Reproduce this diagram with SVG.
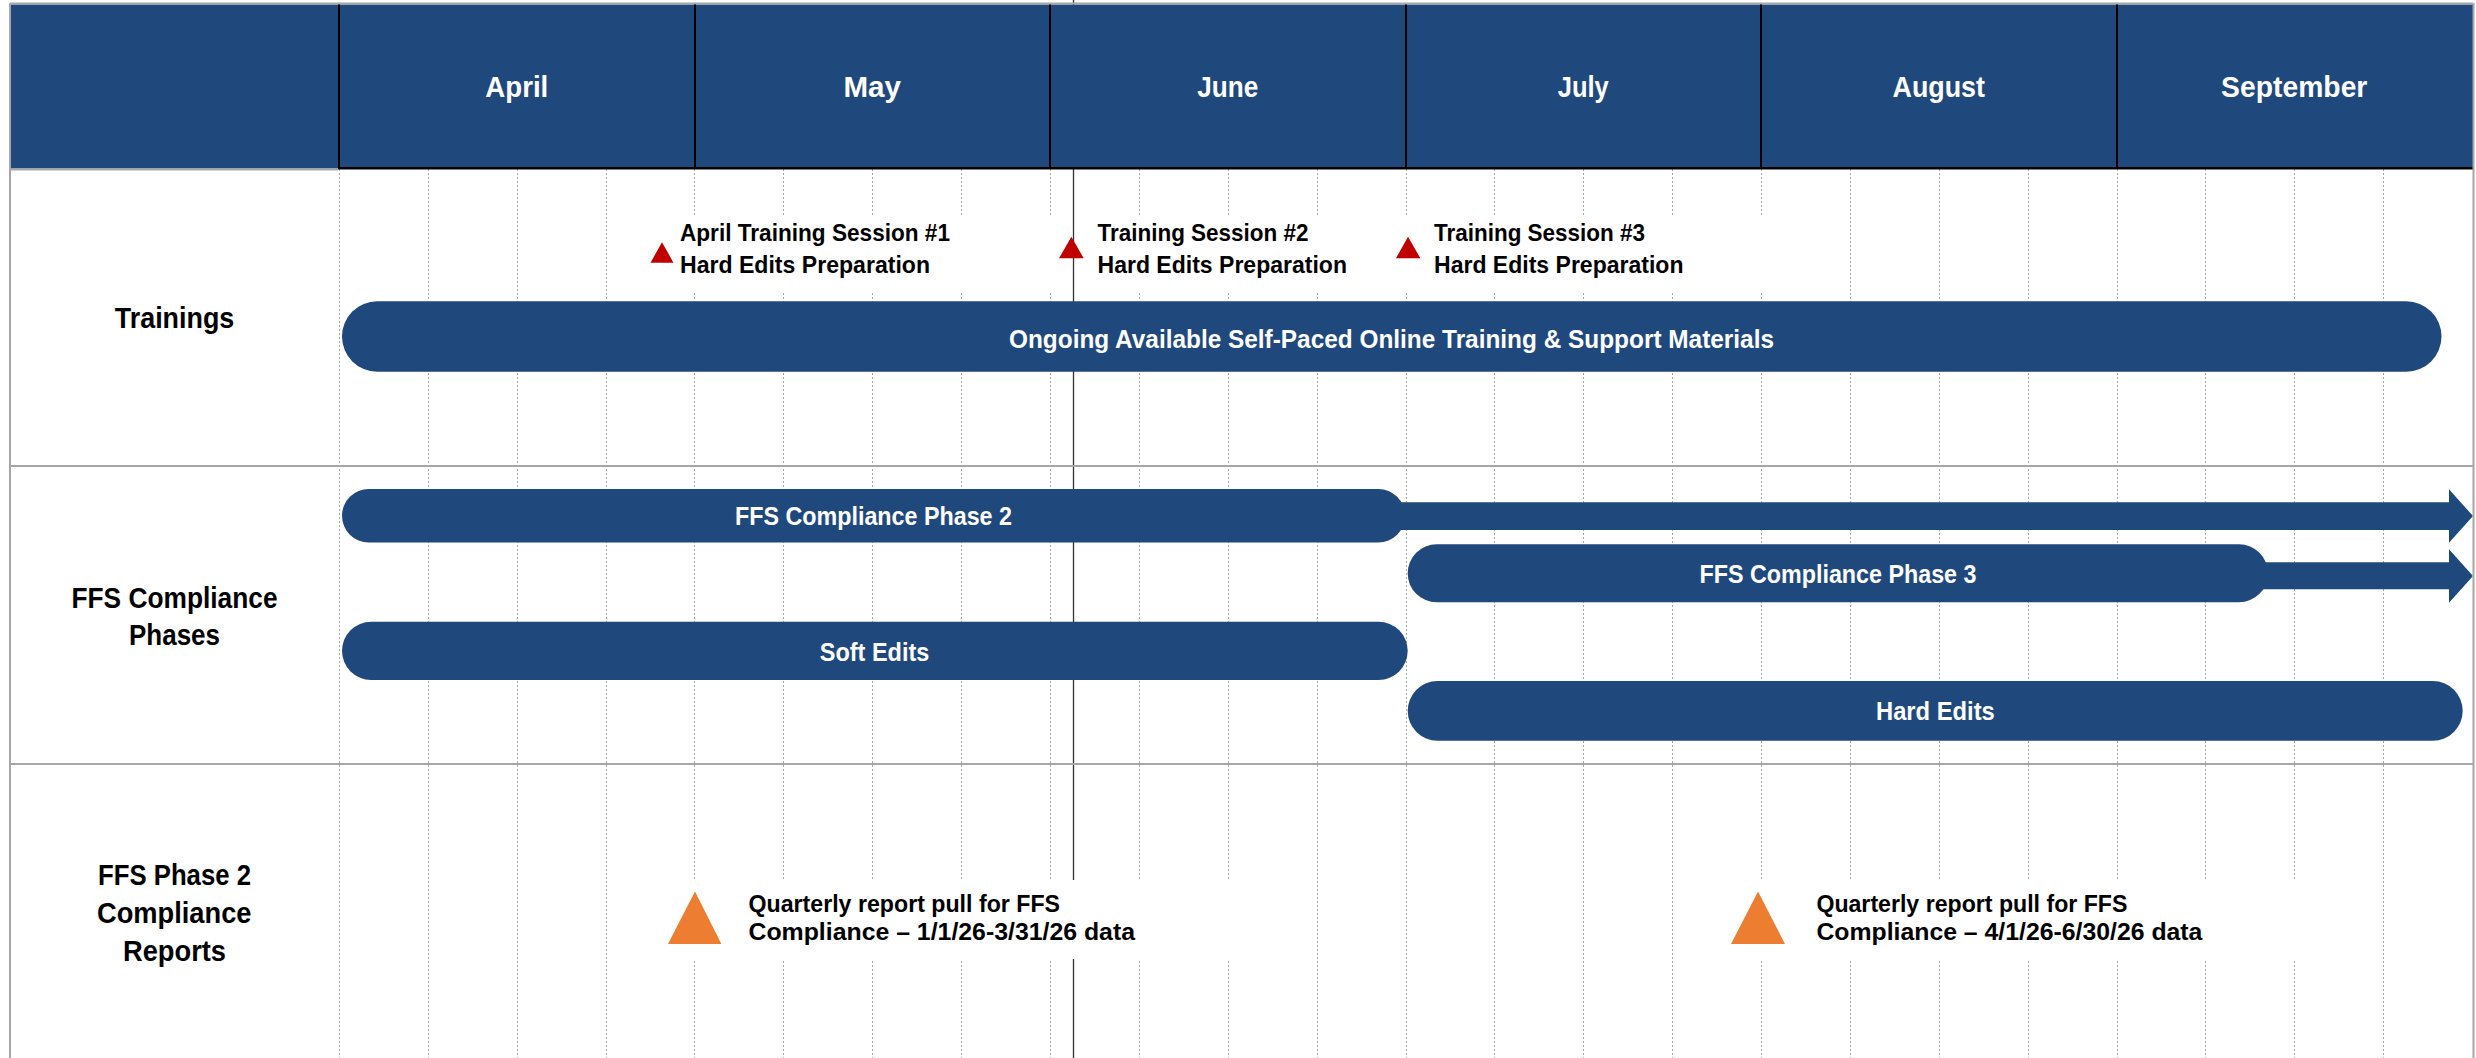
<svg xmlns="http://www.w3.org/2000/svg" width="2476" height="1058" viewBox="0 0 2476 1058">
<style>
  text { font-family: "Liberation Sans", Arial, sans-serif; font-weight: 700; }
  .mo { font-size: 28.8px; fill: #ffffff; }
  .rl { font-size: 28.8px; fill: #000000; }
  .bl { font-size: 25.2px; fill: #ffffff; }
  .ml { font-size: 24px; fill: #000000; }
  .bar { fill: #1F497D; }
  .hdr { fill: #1F497D; }
  .grid line { stroke: #a6a6a6; stroke-width: 1; stroke-dasharray: 2 2; }
  .mask { fill: #ffffff; }
  .hv { stroke: #000000; stroke-width: 2; }
  .border { stroke: #a6a6a6; stroke-width: 2; fill: none; }
  .red { fill: #C00000; }
  .orange { fill: #ED7D31; }
</style>

<rect x="0" y="0" width="2476" height="1058" fill="#ffffff"/>

<g id="connectors">
  <g class="grid">
    <line x1="339.5" y1="169" x2="339.5" y2="1058"/>
    <line x1="428.5" y1="169" x2="428.5" y2="1058"/>
    <line x1="517.5" y1="169" x2="517.5" y2="1058"/>
    <line x1="606.5" y1="169" x2="606.5" y2="1058"/>
    <line x1="694.5" y1="169" x2="694.5" y2="1058"/>
    <line x1="783.5" y1="169" x2="783.5" y2="1058"/>
    <line x1="872.5" y1="169" x2="872.5" y2="1058"/>
    <line x1="961.5" y1="169" x2="961.5" y2="1058"/>
    <line x1="1050.5" y1="169" x2="1050.5" y2="1058"/>
    <line x1="1139.5" y1="169" x2="1139.5" y2="1058"/>
    <line x1="1228.5" y1="169" x2="1228.5" y2="1058"/>
    <line x1="1317.5" y1="169" x2="1317.5" y2="1058"/>
    <line x1="1406.5" y1="169" x2="1406.5" y2="1058"/>
    <line x1="1494.5" y1="169" x2="1494.5" y2="1058"/>
    <line x1="1583.5" y1="169" x2="1583.5" y2="1058"/>
    <line x1="1672.5" y1="169" x2="1672.5" y2="1058"/>
    <line x1="1761.5" y1="169" x2="1761.5" y2="1058"/>
    <line x1="1850.5" y1="169" x2="1850.5" y2="1058"/>
    <line x1="1939.5" y1="169" x2="1939.5" y2="1058"/>
    <line x1="2028.5" y1="169" x2="2028.5" y2="1058"/>
    <line x1="2117.5" y1="169" x2="2117.5" y2="1058"/>
    <line x1="2205.5" y1="169" x2="2205.5" y2="1058"/>
    <line x1="2294.5" y1="169" x2="2294.5" y2="1058"/>
    <line x1="2383.5" y1="169" x2="2383.5" y2="1058"/>
  </g>
  <!-- white backgrounds of training labels -->
  <rect class="mask" x="640" y="215" width="1145" height="77"/>
  <!-- today line -->
  <line id="today" x1="1073.5" y1="0" x2="1073.5" y2="1058" stroke="#333333" stroke-width="1.3"/>
</g>

<g id="header">
  <rect class="hdr" x="11" y="4.5" width="2462" height="164"/>
  <line class="hv" x1="339" y1="4" x2="339" y2="169"/>
  <line class="hv" x1="695" y1="4" x2="695" y2="169"/>
  <line class="hv" x1="1050" y1="4" x2="1050" y2="169"/>
  <line class="hv" x1="1406" y1="4" x2="1406" y2="169"/>
  <line class="hv" x1="1761" y1="4" x2="1761" y2="169"/>
  <line class="hv" x1="2117" y1="4" x2="2117" y2="169"/>
  <line x1="338" y1="168.2" x2="2473" y2="168.2" stroke="#000000" stroke-width="2.6"/>
  <line x1="10" y1="169.5" x2="338" y2="169.5" stroke="#a6a6a6" stroke-width="2"/>
  <text class="mo" x="485.3" y="97" textLength="63" lengthAdjust="spacingAndGlyphs">April</text>
  <text class="mo" x="843.5" y="97" textLength="57.5" lengthAdjust="spacingAndGlyphs">May</text>
  <text class="mo" x="1197.3" y="97" textLength="61" lengthAdjust="spacingAndGlyphs">June</text>
  <text class="mo" x="1557.8" y="97" textLength="51" lengthAdjust="spacingAndGlyphs">July</text>
  <text class="mo" x="1892.5" y="97" textLength="92.5" lengthAdjust="spacingAndGlyphs">August</text>
  <text class="mo" x="2221.1" y="97" textLength="146.3" lengthAdjust="spacingAndGlyphs">September</text>
</g>

<g id="row-lines">
  <line class="border" x1="10" y1="3.5" x2="2473" y2="3.5"/>
  <line class="border" x1="10" y1="466" x2="2473" y2="466"/>
  <line class="border" x1="10" y1="764" x2="2473" y2="764"/>
  <line class="border" x1="10" y1="3" x2="10" y2="1058"/>
</g>

<g id="label-trainings">
  <text class="rl" x="114.8" y="328.3" textLength="119.5" lengthAdjust="spacingAndGlyphs">Trainings</text>
</g>
<g id="label-phases">
  <text class="rl" x="71.5" y="607.5" textLength="206" lengthAdjust="spacingAndGlyphs">FFS Compliance</text>
  <text class="rl" x="129" y="645" textLength="91" lengthAdjust="spacingAndGlyphs">Phases</text>
</g>
<g id="label-reports">
  <text class="rl" x="98" y="884.6" textLength="153" lengthAdjust="spacingAndGlyphs">FFS Phase 2</text>
  <text class="rl" x="97" y="922.8" textLength="154.5" lengthAdjust="spacingAndGlyphs">Compliance</text>
  <text class="rl" x="123" y="961" textLength="103" lengthAdjust="spacingAndGlyphs">Reports</text>
</g>

<g id="bar-ongoing">
  <rect class="bar" x="342" y="301.3" width="2099.5" height="70.4" rx="35.2" ry="35.2"/>
  <text class="bl" x="1009" y="347.5" textLength="765" lengthAdjust="spacingAndGlyphs">Ongoing Available Self-Paced Online Training &amp; Support Materials</text>
</g>

<g id="bar-phase2">
  <rect class="bar" x="342" y="489" width="1063" height="53.5" rx="26.75" ry="26.75"/>
  <polygon class="bar" points="1380,502.3 2449,502.3 2449,489.3 2473,516 2449,542.7 2449,530 1380,530"/>
  <text class="bl" x="735" y="525" textLength="277" lengthAdjust="spacingAndGlyphs">FFS Compliance Phase 2</text>
</g>

<g id="bar-phase3">
  <rect class="bar" x="1407.7" y="544.3" width="860.3" height="58" rx="29" ry="29"/>
  <polygon class="bar" points="2240,562.3 2449,562.3 2449,549.3 2473,576 2449,602.7 2449,589.3 2240,589.3"/>
  <text class="bl" x="1699.5" y="582.7" textLength="277" lengthAdjust="spacingAndGlyphs">FFS Compliance Phase 3</text>
</g>

<g id="bar-soft-edits">
  <rect class="bar" x="342" y="621.7" width="1065.7" height="58.3" rx="29.15" ry="29.15"/>
  <text class="bl" x="819.8" y="660.5" textLength="109.5" lengthAdjust="spacingAndGlyphs">Soft Edits</text>
</g>

<g id="bar-hard-edits">
  <rect class="bar" x="1407.7" y="681" width="1055" height="59.7" rx="29.85" ry="29.85"/>
  <text class="bl" x="1876" y="719.5" textLength="118.8" lengthAdjust="spacingAndGlyphs">Hard Edits</text>
</g>

<g id="milestone-training-1">
  <polygon class="red" points="650.5,262.7 673.5,262.7 662,242.3"/>
  <text class="ml" x="680" y="240.7" textLength="270" lengthAdjust="spacingAndGlyphs">April Training Session #1</text>
  <text class="ml" x="680" y="272.7" textLength="250" lengthAdjust="spacingAndGlyphs">Hard Edits Preparation</text>
</g>
<g id="milestone-training-2">
  <polygon class="red" points="1059,258.3 1083.7,258.3 1071.4,236.7"/>
  <text class="ml" x="1097.5" y="240.7" textLength="211" lengthAdjust="spacingAndGlyphs">Training Session #2</text>
  <text class="ml" x="1097.5" y="272.7" textLength="249.5" lengthAdjust="spacingAndGlyphs">Hard Edits Preparation</text>
</g>
<g id="milestone-training-3">
  <polygon class="red" points="1396,258.3 1420.4,258.3 1408,236.7"/>
  <text class="ml" x="1434" y="240.7" textLength="211" lengthAdjust="spacingAndGlyphs">Training Session #3</text>
  <text class="ml" x="1434" y="272.7" textLength="249.5" lengthAdjust="spacingAndGlyphs">Hard Edits Preparation</text>
</g>

<g id="milestone-report-1">
  <rect class="mask" x="642" y="880" width="610" height="79"/>
  <polygon class="orange" points="668,944 721.4,944 695,891.5"/>
  <text class="ml" x="748.5" y="911.7" textLength="311.5" lengthAdjust="spacingAndGlyphs">Quarterly report pull for FFS</text>
  <text class="ml" x="748.5" y="940" textLength="386.5" lengthAdjust="spacingAndGlyphs">Compliance – 1/1/26-3/31/26 data</text>
</g>
<g id="milestone-report-2">
  <rect class="mask" x="1704" y="880" width="610" height="79"/>
  <polygon class="orange" points="1731,944 1785,944 1758,891.5"/>
  <text class="ml" x="1816.4" y="911.7" textLength="311" lengthAdjust="spacingAndGlyphs">Quarterly report pull for FFS</text>
  <text class="ml" x="1816.4" y="940" textLength="386" lengthAdjust="spacingAndGlyphs">Compliance – 4/1/26-6/30/26 data</text>
</g>

<g id="right-border">
  <line class="border" x1="2473.5" y1="3" x2="2473.5" y2="1058"/>
</g>
</svg>
